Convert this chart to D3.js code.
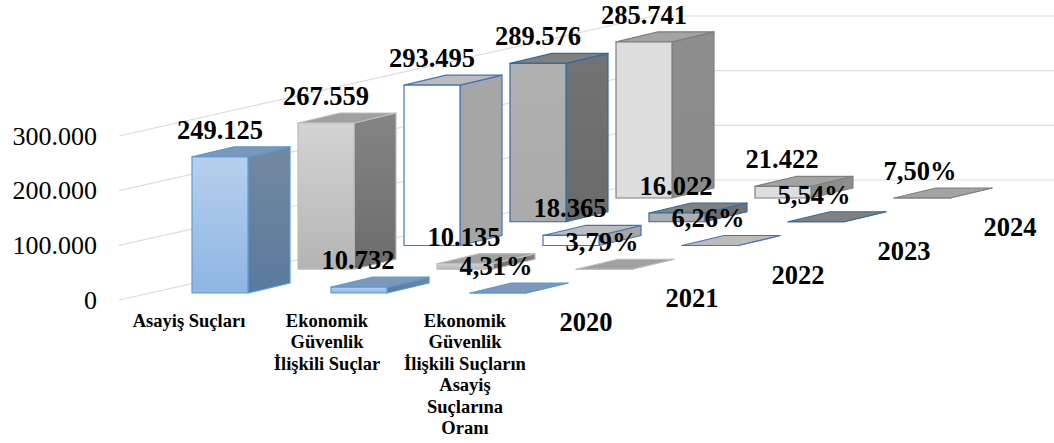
<!DOCTYPE html>
<html>
<head>
<meta charset="utf-8">
<script src="https://cdn.jsdelivr.net/npm/d3@7"></script>
<style>
  html, body { margin: 0; padding: 0; background: #fff; }
  svg { display: block; }
  text { font-family: "Liberation Serif", serif; fill: #000; }
</style>
</head>
<body>
<svg id="chart" width="1054" height="443"></svg>
<script>
// Data
const categories = ['Asayiş Suçları', 'Ekonomik Güvenlik İlişkili Suçlar', 'Ekonomik Güvenlik İlişkili Suçların Asayiş Suçlarına Oranı'];
const years = ['2020', '2021', '2022', '2023', '2024'];
const asayis = [249125, 267559, 293495, 289576, 285741];
const ekonomik = [10732, 10135, 18365, 16022, 21422];
const oran = [4.31, 3.79, 6.26, 5.54, 7.50];
const axisTicks = [0, 100000, 200000, 300000];
const categoryLines = [['Asayiş Suçları'], ['Ekonomik', 'Güvenlik', 'İlişkili Suçlar'], ['Ekonomik', 'Güvenlik', 'İlişkili Suçların', 'Asayiş', 'Suçlarına', 'Oranı']];

// Colours per year
const palette = {
    '2020': { front: ['#b5d0ed', '#8fb5e3'], side: ['#74889f', '#587a9e'], top: '#7d97b8', line: '#5b9bd5' },
    '2021': { front: ['#d4d4d4', '#b4b4b4'], side: ['#848484', '#6c6c6c'], top: '#a0a0a0', line: '#bdbdbd' },
    '2022': { front: ['#ffffff', '#ffffff'], side: ['#a6a6a6', '#a6a6a6'], top: '#bcbcbc', line: '#4472c4' },
    '2023': { front: ['#b0b0b0', '#aaaaaa'], side: ['#737373', '#6a6a6a'], top: '#808080', line: '#2e6da4' },
    '2024': { front: ['#dddddd', '#dddddd'], side: ['#8e8e8e', '#8a8a8a'], top: '#a3a3a3', line: '#7f7f7f' }
};

const W = 1054, H = 443;
const barW = 56, depthX = 42, depthY = -10;

const svg = d3.select('#chart');
const defs = svg.append('defs');

// Scales
const yAxisPos = d3.scaleLinear().domain([0, 300000]).range([300, 136]);
const barH = d3.scaleLinear().domain([0, 300000]).range([0, 164]);
const catX = d3.scalePoint().domain(categories).range([192, 470]);
const yearDX = d3.scalePoint().domain(years).range([0, 424]);
const yearDY = d3.scalePoint().domain(years).range([293, 198]);

const locale = d3.formatLocale({ decimal: ',', thousands: '.', grouping: [3], currency: ['', ''] });
const fmtInt = locale.format(',d');
const fmtPct = v => locale.format('.2f')(v) + '%';

// Gradients
years.forEach(y => {
    ['front', 'side'].forEach(part => {
        const g = defs.append('linearGradient')
            .attr('id', `${part}-${y}`)
            .attr('x1', 0).attr('y1', 0).attr('x2', 0).attr('y2', 1);
        g.append('stop').attr('offset', '0%').attr('stop-color', palette[y][part][0]);
        g.append('stop').attr('offset', '100%').attr('stop-color', palette[y][part][1]);
    });
});

// Gridlines: side wall, then back wall
const wallDX = 534, wallDY = -120;
const grid = svg.append('g');
axisTicks.forEach(t => {
    const y0 = yAxisPos(t);
    grid.append('polyline')
        .attr('points', [[119, y0], [119 + wallDX, y0 + wallDY], [W, y0 + wallDY]].join(' '))
        .attr('fill', 'none')
        .attr('stroke', '#dcdcdc')
        .attr('stroke-width', 1.2);
});

// Value axis
const axis = svg.append('g')
    .attr('transform', 'translate(97,0)')
    .call(d3.axisLeft(yAxisPos).tickValues(axisTicks).tickSize(0).tickPadding(0).tickFormat(fmtInt));
axis.select('.domain').remove();
axis.selectAll('text')
    .style('font-family', '"Liberation Serif", serif')
    .style('font-size', '26px')
    .attr('fill', '#000');

// Bars, back to front
const seriesByCat = [asayis, ekonomik, oran];
const labels = [];
years.slice().reverse().forEach(year => {
    const yi = years.indexOf(year);
    const col = palette[year];
    categories.forEach((cat, ci) => {
        const value = seriesByCat[ci][yi];
        const x0 = catX(cat) + yearDX(year);
        const x1 = x0 + barW;
        const yb = yearDY(year);
        const yt = yb - barH(value);
        const g = svg.append('g').attr('stroke', col.line).attr('stroke-width', 1.2).attr('stroke-linejoin', 'round');

        g.append('polygon')
            .attr('points', [[x1, yt], [x1 + depthX, yt + depthY], [x1 + depthX, yb + depthY], [x1, yb]].join(' '))
            .attr('fill', `url(#side-${year})`);
        g.append('polygon')
            .attr('points', [[x0, yt], [x0 + depthX, yt + depthY], [x1 + depthX, yt + depthY], [x1, yt]].join(' '))
            .attr('fill', col.top);
        g.append('rect')
            .attr('x', x0).attr('y', yt)
            .attr('width', barW).attr('height', yb - yt)
            .attr('fill', `url(#front-${year})`);

        labels.push({
            x: (x0 + x1) / 2 - ci,
            y: yt - 18,
            text: ci === 2 ? fmtPct(value) : fmtInt(value)
        });
    });
});

// Data labels on top of all bars
svg.append('g').selectAll('text')
    .data(labels)
    .enter()
    .append('text')
    .attr('x', d => d.x)
    .attr('y', d => d.y)
    .attr('text-anchor', 'middle')
    .style('font-size', '26.5px')
    .style('font-weight', 'bold')
    .text(d => d.text);

// Category labels
categoryLines.forEach((lines, i) => {
    const t = svg.append('text')
        .attr('text-anchor', 'middle')
        .style('font-size', '18.5px')
        .style('font-weight', 'bold');
    lines.forEach((line, j) => {
        t.append('tspan')
            .attr('x', catX(categories[i]) - 3 - i)
            .attr('y', 327 + j * 21.4)
            .text(line);
    });
});

// Year labels
svg.append('g').selectAll('text')
    .data(years)
    .enter()
    .append('text')
    .attr('x', d => 586 + yearDX(d))
    .attr('y', d => yearDY(d) + 38)
    .attr('text-anchor', 'middle')
    .style('font-size', '26.5px')
    .style('font-weight', 'bold')
    .text(d => d);
</script>
</body>
</html>
